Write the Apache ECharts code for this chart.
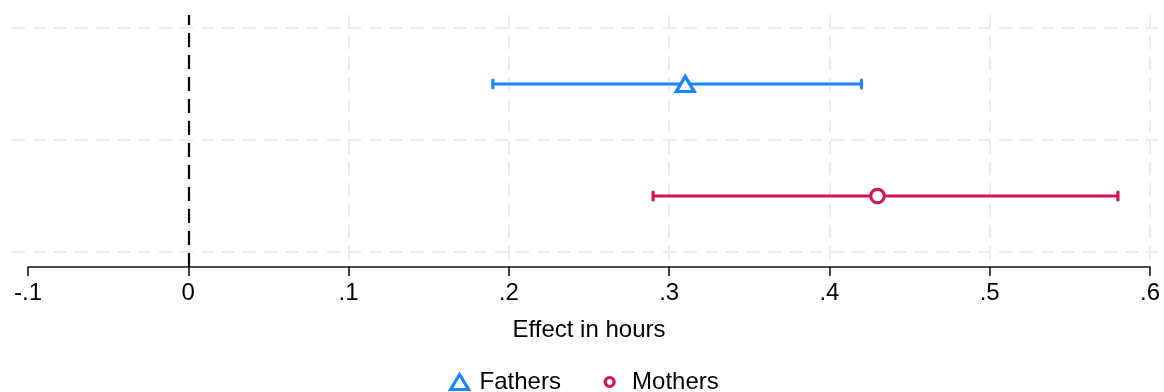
<!DOCTYPE html>
<html>
<head>
<meta charset="utf-8">
<script src="https://cdn.jsdelivr.net/npm/echarts@6/dist/echarts.min.js"></script>
<style>html,body{margin:0;padding:0;background:#fff}#c{width:1164px;height:392px}</style>
</head>
<body>
<div id="c"></div>
<script>
const categories = ['Fathers', 'Mothers'];
const estimates = [0.31, 0.43];
const lower = [0.19, 0.29];
const upper = [0.42, 0.58];
const xMin = -0.1, xMax = 0.6, xStep = 0.1;
const xTitle = 'Effect in hours';

const colors = ['#1a85ff', '#d41159'];
const symbols = ['triangle', 'circle'];
const symSizes = [[18, 15], 13.5];
const FONT = 'Liberation Sans, Arial, Helvetica, sans-serif';
const FS = 24;

const n = categories.length;
const yPos = categories.map((c, i) => n - i - 0.5);

function fmt(v) {
  const r = Math.round(v * 10) / 10;
  if (r === 0) return '0';
  const s = Math.abs(r).toFixed(1).replace(/^0/, '');
  return (r < 0 ? '-' : '') + s;
}

const series = [];
series.push({ type: 'line', xAxisIndex: 0, yAxisIndex: 0, data: [], silent: true });
series.push({
  type: 'line', xAxisIndex: 1, yAxisIndex: 1, data: [], silent: true, name: '_zero',
  markLine: {
    silent: true, symbol: 'none', label: { show: false },
    lineStyle: { color: '#000', type: [14, 8], width: 2.2 },
    data: [{ xAxis: 0 }]
  }
});
categories.forEach((cat, i) => {
  const col = colors[i];
  series.push({
    type: 'custom', name: '_ci' + i, xAxisIndex: 1, yAxisIndex: 1,
    encode: { x: [1, 2], y: 0 },
    data: [[yPos[i], lower[i], upper[i]]],
    z: 3, silent: true,
    renderItem: function (params, api) {
      const y = api.value(0), lo = api.value(1), hi = api.value(2);
      const p1 = api.coord([lo, y]), p2 = api.coord([hi, y]);
      const h = 4;
      return {
        type: 'group', children: [
          { type: 'line', shape: { x1: p1[0], y1: p1[1], x2: p2[0], y2: p2[1] }, style: { stroke: col, lineWidth: 3 } },
          { type: 'line', shape: { x1: p1[0], y1: p1[1] - h, x2: p1[0], y2: p1[1] + h }, style: { stroke: col, lineWidth: 3.2, lineCap: 'round' } },
          { type: 'line', shape: { x1: p2[0], y1: p2[1] - h, x2: p2[0], y2: p2[1] + h }, style: { stroke: col, lineWidth: 3.2, lineCap: 'round' } }
        ]
      };
    }
  });
  series.push({
    type: 'scatter', name: cat, xAxisIndex: 1, yAxisIndex: 1,
    data: [[estimates[i], yPos[i]]],
    symbol: symbols[i], symbolSize: symSizes[i], z: 5,
    itemStyle: { color: '#fff', borderColor: col, borderWidth: 3.2, opacity: 1 }
  });
});

const option = {
  animation: false,
  backgroundColor: '#fff',
  textStyle: { fontFamily: FONT },
  grid: [
    { left: 12, right: 0, top: 28, bottom: 140, containLabel: false },
    { left: 28, right: 14, top: 15, bottom: 125, containLabel: false }
  ],
  xAxis: [
    { gridIndex: 0, type: 'value', min: 0, max: 1, show: false, splitLine: { show: false } },
    {
      gridIndex: 1, type: 'value', min: xMin, max: xMax, interval: xStep,
      name: xTitle, nameLocation: 'middle', nameGap: 51,
      nameTextStyle: { fontSize: FS, color: '#000', fontFamily: FONT },
      axisLine: { show: true, onZero: false, lineStyle: { color: '#111', width: 1.6 } },
      axisTick: { show: true, length: 9, lineStyle: { color: '#111', width: 1.6 } },
      axisLabel: { formatter: fmt, fontSize: FS, color: '#000', margin: 14, fontFamily: FONT },
      splitLine: { show: true, showMinLine: false, lineStyle: { color: '#ececec', type: [13, 8], width: 2 } }
    }
  ],
  yAxis: [
    {
      gridIndex: 0, type: 'value', min: 0, max: n, interval: 1,
      axisLine: { show: false }, axisTick: { show: false }, axisLabel: { show: false },
      splitLine: { show: true, lineStyle: { color: '#ececec', type: [13, 8], width: 2 } }
    },
    {
      gridIndex: 1, type: 'value', min: -15 / 112, max: n + 13 / 112,
      axisLine: { show: false }, axisTick: { show: false }, axisLabel: { show: false },
      splitLine: { show: false }
    }
  ],
  legend: [
    {
      data: [{ name: categories[0], icon: 'triangle',
        itemStyle: { color: '#fff', borderColor: colors[0], borderWidth: 3.2 } }],
      left: 444, top: 365, itemWidth: 18, itemHeight: 15, symbolKeepAspect: false,
      textStyle: { fontSize: FS, color: '#000', fontFamily: FONT, padding: [0, 0, 0, 6] },
      selectedMode: false
    },
    {
      data: [{ name: categories[1], icon: 'circle',
        itemStyle: { color: '#fff', borderColor: colors[1], borderWidth: 3.2 } }],
      left: 598.5, top: 365, itemWidth: 9, itemHeight: 9,
      textStyle: { fontSize: FS, color: '#000', fontFamily: FONT, padding: [0, 0, 0, 13] },
      selectedMode: false
    }
  ],
  series: series
};

const chart = echarts.init(document.getElementById('c'), null, { renderer: 'canvas' });
chart.setOption(option);
</script>
</body>
</html>
